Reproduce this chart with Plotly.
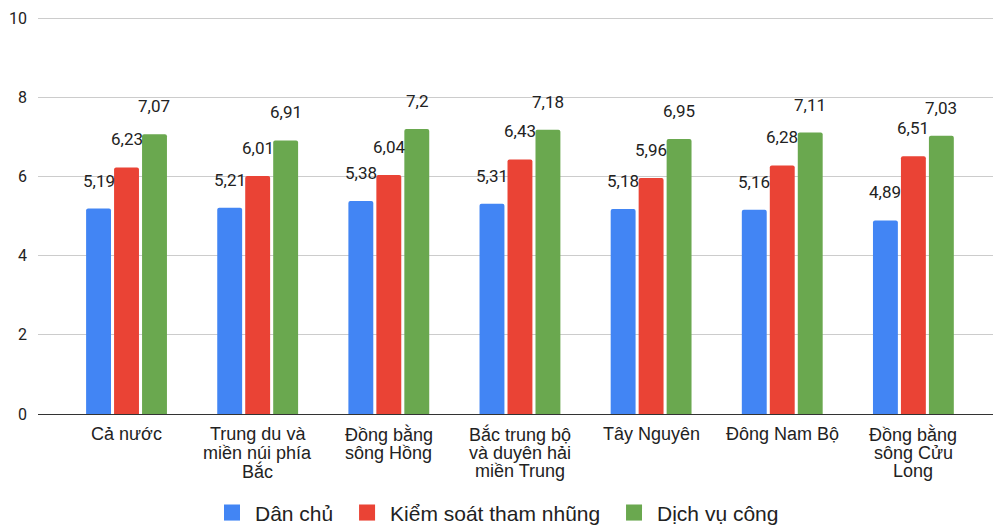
import plotly.graph_objects as go

categories = ["Cả nước", "Trung du và<br>miền núi phía<br>Bắc", "Đồng bằng<br>sông Hồng",
              "Bắc trung bộ<br>và duyên hải<br>miền Trung", "Tây Nguyên", "Đông Nam Bộ",
              "Đồng bằng<br>sông Cửu<br>Long"]
dan_chu = [5.19, 5.21, 5.38, 5.31, 5.18, 5.16, 4.89]
kiem_soat = [6.23, 6.01, 6.04, 6.43, 5.96, 6.28, 6.51]
dich_vu = [7.07, 6.91, 7.2, 7.18, 6.95, 7.11, 7.03]
series_names = ["Dân chủ", "Kiểm soát tham nhũng", "Dịch vụ công"]
colors = ["#4285F4", "#EA4335", "#6AA84F"]
y_ticks = [0, 2, 4, 6, 8, 10]

W, H = 993, 525
ml, mr, mt, mb = 38, 0, 17, 111
x_range = [-0.675, 6.607]
y_range = [0, 10.03]
bargap, bargroupgap = 0.36, 0.11
label_font = dict(family="Liberation Sans", size=18, color="#222222")

fig = go.Figure()
series = [dan_chu, kiem_soat, dich_vu]
for k, (name, vals, col) in enumerate(zip(series_names, series, colors)):
    fig.add_trace(go.Bar(x=categories, y=vals, name=name, showlegend=False,
                         marker=dict(color=col, cornerradius=2, line=dict(width=0)),
                         hoverinfo="skip"))
    legend_name = name + ("\u00a0" if k < len(series_names) - 1 else "")
    fig.add_trace(go.Scatter(x=[None], y=[None], mode="markers", name=legend_name,
                             marker=dict(symbol="square", size=16, color=col)))

# data labels
px_per_unit = (W - ml - mr) / (x_range[1] - x_range[0])
slot = px_per_unit * (1 - bargap) / 3
for i, vals in enumerate(series):
    for c, v in zip(categories, vals):
        fig.add_annotation(x=c, y=v, text=f"{v:g}".replace(".", ","), showarrow=False,
                           xshift=(i - 1) * slot, yshift=28, yanchor="middle",
                           font=dict(family="Roboto", size=17, color="#222222"))

# category labels (line by line, tighter line spacing)
for c in categories:
    for j, line in enumerate(c.split("<br>")):
        fig.add_annotation(x=c, y=0, text=line, showarrow=False, yanchor="middle",
                           yshift=-20 - 18.5 * j, font=label_font)

fig.update_layout(
    width=W, height=H,
    margin=dict(l=ml, r=mr, t=mt, b=mb, autoexpand=False),
    paper_bgcolor="white", plot_bgcolor="white",
    barmode="group", bargap=bargap, bargroupgap=bargroupgap,
    legend=dict(orientation="h", xref="container", x=0.5, xanchor="center",
                yref="container", y=0.023, yanchor="middle",
                font=dict(family="Liberation Sans", size=21, color="#222222"),
                itemsizing="trace", itemwidth=36),
    xaxis=dict(range=x_range, showline=True, linecolor="#333333", linewidth=1,
               showgrid=False, ticks="", showticklabels=False),
    yaxis=dict(range=y_range, tickvals=y_ticks, showgrid=True, gridcolor="#cccccc",
               zeroline=False, ticks="", ticklabelstandoff=10,
               tickfont=dict(family="Roboto", size=16, color="#222222")),
)

fig.write_html("out.html", config=dict(displayModeBar=False),
               post_script="document.body.style.margin='0';document.body.style.overflow='hidden';")
